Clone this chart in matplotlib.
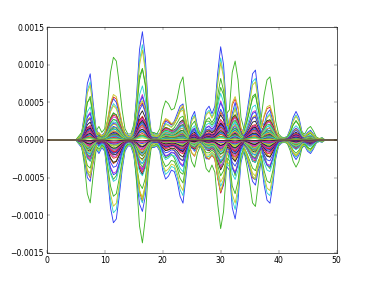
import numpy as np
import matplotlib
matplotlib.use("Agg")
import matplotlib.pyplot as plt

plt.style.use("classic")

# sample positions along x (signal lives between 5 and 48, flat elsewhere)
x = [0.0] + [5.0 + 0.5 * i for i in range(87)] + [50.0]

# outermost "blue" profile, units of 1e-4
prof_a = [0, 0, 0.3, 0.8, 3.5, 7.5, 8.8, 5.0, 1.5, 0.8, 0.6, 1.0, 2.5, 4.5, 5.5, 5.0,
          3.5, 2.0, 1.0, 0.6, 0.5, 1.5, 6.0, 12.0, 14.4, 11.0, 4.5, 1.2, 0.8, 0.8,
          0.8, 1.5, 2.5, 2.3, 2.0, 2.5, 3.5, 4.5, 4.8, 2.5, 1.0, 3.0, 3.8, 1.8, 0.8,
          2.0, 4.0, 4.5, 3.5, 4.5, 9.0, 12.4, 10.0, 4.0, 1.5, 3.5, 5.0, 3.0, 1.0,
          1.5, 3.5, 6.0, 8.8, 9.3, 6.0, 2.5, 2.0, 3.5, 4.0, 2.5, 1.0, 0.5, 0.3, 0.3,
          0.5, 1.5, 3.0, 3.8, 3.0, 1.2, 0.5, 1.0, 1.3, 0.8, 0.2, 0.1, 0.3, 0, 0]

# outermost "green" profile, units of 1e-4
prof_b = [0, 0, 0.5, 1.0, 2.5, 5.0, 5.5, 3.0, 1.2, 1.8, 1.0, 1.5, 5.0, 9.0, 11.0, 10.5,
          7.5, 4.0, 1.5, 0.8, 0.8, 2.0, 5.0, 8.5, 9.5, 7.5, 3.0, 1.0, 1.0, 0.8,
          1.5, 4.0, 5.2, 4.8, 4.0, 4.2, 5.5, 7.5, 8.4, 5.0, 1.5, 1.0, 1.5, 1.0, 0.8,
          1.5, 2.5, 2.5, 2.0, 2.5, 5.0, 7.0, 6.0, 3.5, 4.0, 9.0, 10.5, 8.0, 3.0,
          1.5, 2.5, 4.0, 5.5, 6.0, 4.0, 3.0, 6.0, 8.0, 8.4, 6.0, 2.5, 0.8, 0.4, 0.3,
          0.4, 1.0, 2.0, 2.6, 2.0, 1.0, 0.8, 1.5, 1.8, 1.2, 0.4, 0.2, 0.3, 0, 0]

# one entry per curve: which profile, which side of zero, how large
line_prof = "ABBAAAB" "BAABBBA" "AABABBA" "BBABAAB" "ABABABA" "BABABAB" \
            "ABABABA" "BABABAB" "ABABABAB" "ABABAB"
line_sign = [1] * 7 + [-1] * 7 + [1] * 7 + [-1] * 7 + [1] * 7 + [-1] * 7 \
            + [1] * 7 + [-1] * 7 + [1, 1, 1, 1, -1, -1, -1, -1] + [1, -1, 1, -1, 1, -1]
line_scale = [1.00, 1.00, 0.52, 0.88, 0.42, 0.83, 0.32,
              1.00, 0.95, 0.57, 0.88, 0.40, 0.80, 0.32,
              0.40, 0.66, 0.30, 0.50, 0.28, 0.55, 0.27,
              0.42, 0.68, 0.30, 0.50, 0.28, 0.55, 0.27,
              0.33, 0.25, 0.22, 0.22, 0.20, 0.19, 0.18,
              0.33, 0.25, 0.22, 0.22, 0.20, 0.19, 0.18,
              0.16, 0.15, 0.14, 0.13, 0.12, 0.11, 0.10,
              0.16, 0.15, 0.14, 0.13, 0.12, 0.11, 0.10,
              0.08, 0.07, 0.06, 0.05, 0.08, 0.07, 0.06, 0.05,
              0.04, 0.035, 0.03, 0.025, 0.02, 0.01]

# colour cycle b g r c m y k, a bit softer like the reference
colors = ["#2e3cf5", "#3cb423", "#e02828", "#2ed2d2", "#c832c8", "#c8c828", "#1e1e1e"]

fig = plt.figure(figsize=(8, 6.032), dpi=46.75)
ax = fig.add_subplot(111)

xa = np.array(x)
for i, (p, s, k) in enumerate(zip(line_prof, line_sign, line_scale)):
    base = np.array(prof_a if p == "A" else prof_b) * 1e-4
    ax.plot(xa, s * k * base, lw=1.35, color=colors[i % 7])

ax.set_xlim(0, 50)
ax.set_ylim(-0.0015, 0.0015)
ax.set_yticks([-0.0015, -0.0010, -0.0005, 0.0, 0.0005, 0.0010, 0.0015])

fig.savefig("out.png", dpi=46.75)
